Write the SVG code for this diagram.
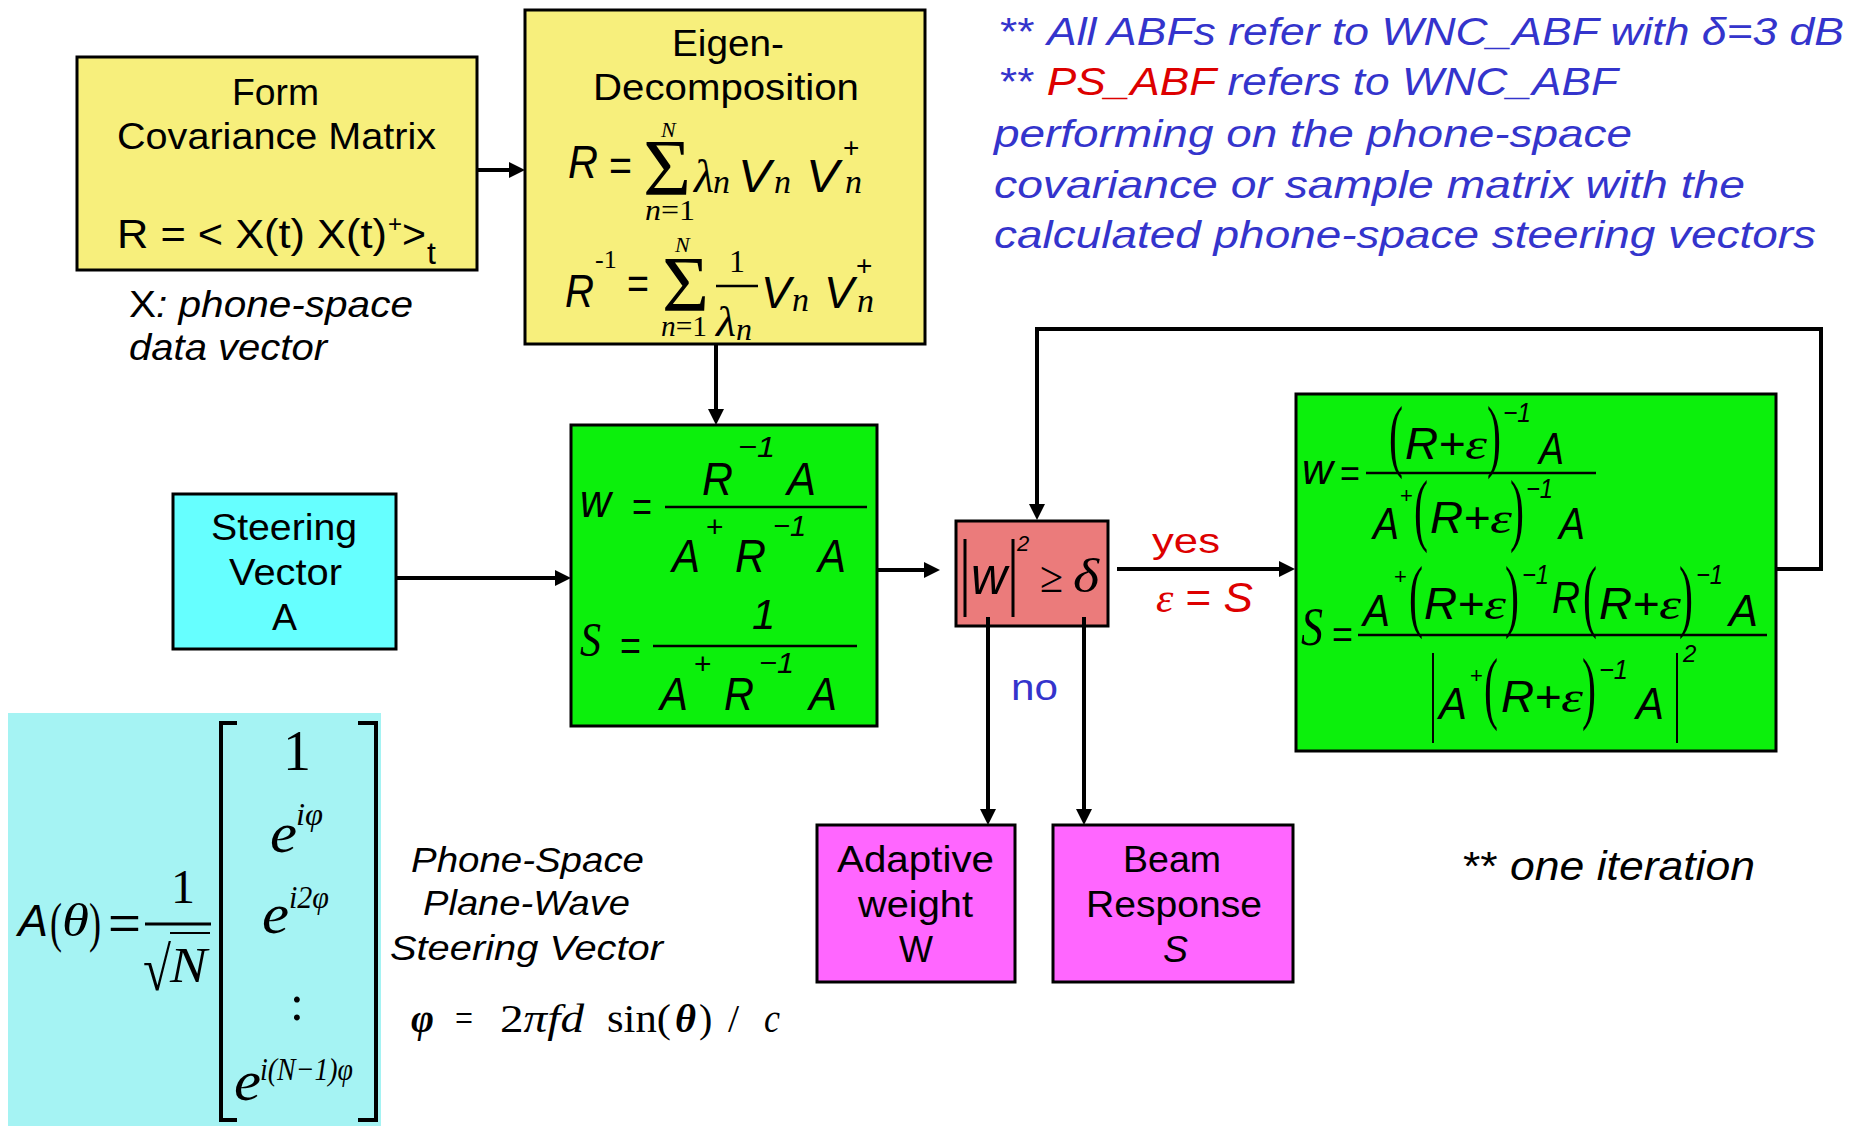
<svg xmlns="http://www.w3.org/2000/svg" width="1866" height="1126" viewBox="0 0 1866 1126">
<style>
.s{font-family:"Liberation Sans",Arial,sans-serif}
.r{font-family:"Liberation Serif","Times New Roman",serif}
.i{font-style:italic}
.b{font-weight:bold}
.blue{fill:#3434CC}
.red{fill:#DD0000}
.box{stroke:#000;stroke-width:3}
.conn{fill:none;stroke:#000;stroke-width:4}
.ln{stroke:#000;stroke-width:2.5}
.p{font-family:"Liberation Serif","Times New Roman",serif;font-style:normal}
</style>
<defs>
<marker id="ah" markerUnits="userSpaceOnUse" markerWidth="16" markerHeight="16" refX="6" refY="8" orient="auto">
<path d="M0,0 L16,8 L0,16 z" fill="#000"/>
</marker>
</defs>
<rect width="1866" height="1126" fill="#fff"/>

<g id="note-top" class="s blue" font-size="38">
<text x="1000" y="45" textLength="844" lengthAdjust="spacingAndGlyphs">** <tspan class="i">All ABFs refer to WNC_ABF with δ=3 dB</tspan></text>
<text x="1000" y="95" textLength="618" lengthAdjust="spacingAndGlyphs">** <tspan class="i red">PS_ABF</tspan><tspan class="i"> refers to WNC_ABF</tspan></text>
<text class="i" x="994" y="147" textLength="638" lengthAdjust="spacingAndGlyphs">performing on the phone-space</text>
<text class="i" x="994" y="198" textLength="751" lengthAdjust="spacingAndGlyphs">covariance or sample matrix with the</text>
<text class="i" x="994" y="248" textLength="822" lengthAdjust="spacingAndGlyphs">calculated phone-space steering vectors</text>
</g>

<g id="form-covariance">
<rect class="box" x="77" y="57" width="400" height="213" fill="#F7EF7C"/>
<g class="s" font-size="36">
<text x="232" y="105" textLength="87" lengthAdjust="spacingAndGlyphs">Form</text>
<text x="117" y="149" textLength="319" lengthAdjust="spacingAndGlyphs">Covariance Matrix</text>
<text x="117" y="248" font-size="40" textLength="270" lengthAdjust="spacingAndGlyphs">R = &lt; X(t) X(t)</text>
<text x="388" y="232" font-size="24">+</text>
<text x="402" y="248" font-size="40" textLength="24" lengthAdjust="spacingAndGlyphs">&gt;</text>
<text x="427" y="264" font-size="32">t</text>
</g>
</g>

<g id="label-x" class="s" font-size="37">
<text x="129" y="317" textLength="284" lengthAdjust="spacingAndGlyphs">X<tspan class="i">: phone-space</tspan></text>
<text class="i" x="129" y="360" textLength="198" lengthAdjust="spacingAndGlyphs">data vector</text>
</g>

<g id="eigen-decomposition">
<rect class="box" x="525" y="10" width="400" height="334" fill="#F7EF7C"/>
<g class="s" font-size="36">
<text x="672" y="56" textLength="112" lengthAdjust="spacingAndGlyphs">Eigen-</text>
<text x="593" y="100" textLength="266" lengthAdjust="spacingAndGlyphs">Decomposition</text>
</g>
<text class="s i" x="568" y="178" font-size="46" textLength="30" lengthAdjust="spacingAndGlyphs">R</text>
<text class="s" x="609" y="181" font-size="44" textLength="23" lengthAdjust="spacingAndGlyphs">=</text>
<text class="r" x="643" y="195" font-size="80" textLength="48" lengthAdjust="spacingAndGlyphs">Σ</text>
<text class="r i" x="661" y="137" font-size="22">N</text>
<text class="r" x="645" y="220" font-size="30" textLength="50" lengthAdjust="spacingAndGlyphs"><tspan class="i">n</tspan>=1</text>
<text class="r i" x="694" y="192" font-size="46" textLength="20" lengthAdjust="spacingAndGlyphs">λ</text>
<text class="r i" x="713" y="193" font-size="34">n</text>
<text class="s i" x="738" y="192" font-size="46" textLength="33" lengthAdjust="spacingAndGlyphs">V</text>
<text class="r i" x="774" y="193" font-size="34">n</text>
<text class="s i" x="806" y="192" font-size="46" textLength="33" lengthAdjust="spacingAndGlyphs">V</text>
<text class="s" x="843" y="157" font-size="28">+</text>
<text class="r i" x="845" y="193" font-size="34">n</text>

<text class="s i" x="565" y="307" font-size="46" textLength="29" lengthAdjust="spacingAndGlyphs">R</text>
<text class="r" x="595" y="268" font-size="26">-1</text>
<text class="s" x="627" y="299" font-size="44" textLength="22" lengthAdjust="spacingAndGlyphs">=</text>
<text class="r" x="662" y="310" font-size="78" textLength="47" lengthAdjust="spacingAndGlyphs">Σ</text>
<text class="r i" x="675" y="252" font-size="22">N</text>
<text class="r" x="661" y="336" font-size="30" textLength="46" lengthAdjust="spacingAndGlyphs"><tspan class="i">n</tspan>=1</text>
<text class="r" x="729" y="272" font-size="32">1</text>
<line class="ln" x1="716" y1="286" x2="758" y2="286"/>
<text class="r i" x="716" y="336" font-size="42" textLength="20" lengthAdjust="spacingAndGlyphs">λ</text>
<text class="r i" x="736" y="340" font-size="32">n</text>
<text class="s i" x="761" y="308" font-size="44" textLength="30" lengthAdjust="spacingAndGlyphs">V</text>
<text class="r i" x="792" y="311" font-size="34">n</text>
<text class="s i" x="824" y="308" font-size="44" textLength="30" lengthAdjust="spacingAndGlyphs">V</text>
<text class="s" x="856" y="275" font-size="28">+</text>
<text class="r i" x="857" y="312" font-size="34">n</text>
</g>

<g id="steering-vector">
<rect class="box" x="173" y="494" width="223" height="155" fill="#66FFFF"/>
<g class="s" font-size="37">
<text x="211" y="540" textLength="146" lengthAdjust="spacingAndGlyphs">Steering</text>
<text x="229" y="585" textLength="113" lengthAdjust="spacingAndGlyphs">Vector</text>
<text x="272" y="630" textLength="25" lengthAdjust="spacingAndGlyphs">A</text>
</g>
</g>

<g id="mvdr-weights">
<rect class="box" x="571" y="425" width="306" height="301" fill="#0CF00C"/>
<g class="s i" font-size="46">
<text x="580" y="517" textLength="31" lengthAdjust="spacingAndGlyphs">w</text>
<text x="702" y="495" textLength="31" lengthAdjust="spacingAndGlyphs">R</text>
<text x="738" y="457" font-size="30" textLength="37" lengthAdjust="spacingAndGlyphs">−1</text>
<text x="787" y="495" textLength="29" lengthAdjust="spacingAndGlyphs">A</text>
<text x="672" y="572" textLength="28" lengthAdjust="spacingAndGlyphs">A</text>
<text x="735" y="572" textLength="31" lengthAdjust="spacingAndGlyphs">R</text>
<text x="773" y="536" font-size="30" textLength="33" lengthAdjust="spacingAndGlyphs">−1</text>
<text x="818" y="572" textLength="28" lengthAdjust="spacingAndGlyphs">A</text>
<text x="752" y="629" font-size="42">1</text>
<text x="660" y="710" textLength="28" lengthAdjust="spacingAndGlyphs">A</text>
<text x="724" y="710" textLength="30" lengthAdjust="spacingAndGlyphs">R</text>
<text x="759" y="673" font-size="30" textLength="35" lengthAdjust="spacingAndGlyphs">−1</text>
<text x="809" y="710" textLength="28" lengthAdjust="spacingAndGlyphs">A</text>
</g>
<g class="s" font-size="42">
<text x="632" y="521" textLength="20" lengthAdjust="spacingAndGlyphs">=</text>
<text x="706" y="537" font-size="30">+</text>
<text x="620" y="660" textLength="21" lengthAdjust="spacingAndGlyphs">=</text>
<text x="694" y="674" font-size="30">+</text>
</g>
<text class="r i" x="580" y="656" font-size="48" textLength="21" lengthAdjust="spacingAndGlyphs">S</text>
<line class="ln" x1="665" y1="507" x2="867" y2="507"/>
<line class="ln" x1="653" y1="646" x2="857" y2="646"/>
</g>

<g id="threshold-test">
<rect class="box" x="956" y="521" width="152" height="105" fill="#EB7B7B"/>
<line x1="965" y1="539" x2="965" y2="617" stroke="#000" stroke-width="3"/>
<line x1="1013" y1="539" x2="1013" y2="617" stroke="#000" stroke-width="3"/>
<text class="s i" x="971" y="594" font-size="54" textLength="36" lengthAdjust="spacingAndGlyphs">w</text>
<text class="s i" x="1017" y="551" font-size="22">2</text>
<text class="r" x="1040" y="592" font-size="44" textLength="23" lengthAdjust="spacingAndGlyphs">≥</text>
<text class="r i" x="1073" y="592" font-size="48" textLength="26" lengthAdjust="spacingAndGlyphs">δ</text>
</g>

<g id="regularized-weights">
<rect class="box" x="1296" y="394" width="480" height="357" fill="#0CF00C"/>
<text class="s i" x="1302" y="484" font-size="42" textLength="31" lengthAdjust="spacingAndGlyphs">w</text>
<text class="s" x="1340" y="487" font-size="38" textLength="20" lengthAdjust="spacingAndGlyphs">=</text>
<line class="ln" x1="1366" y1="473" x2="1596" y2="473"/>
<g class="s i" font-size="44">
<text x="1389" y="462" class="p" font-size="80" textLength="14" lengthAdjust="spacingAndGlyphs">(</text>
<text x="1405" y="459" textLength="60" lengthAdjust="spacingAndGlyphs">R+</text>
<text x="1465" y="459" class="r" textLength="22" lengthAdjust="spacingAndGlyphs">ε</text>
<text x="1487" y="462" class="p" font-size="80" textLength="14" lengthAdjust="spacingAndGlyphs">)</text>
<text x="1503" y="422" font-size="28" textLength="28" lengthAdjust="spacingAndGlyphs">−1</text>
<text x="1539" y="464" textLength="25" lengthAdjust="spacingAndGlyphs">A</text>

<text x="1373" y="539" textLength="26" lengthAdjust="spacingAndGlyphs">A</text>
<text x="1400" y="503" font-size="22" font-style="normal">+</text>
<text x="1414" y="536" class="p" font-size="80" textLength="14" lengthAdjust="spacingAndGlyphs">(</text>
<text x="1430" y="533" textLength="60" lengthAdjust="spacingAndGlyphs">R+</text>
<text x="1490" y="533" class="r" textLength="22" lengthAdjust="spacingAndGlyphs">ε</text>
<text x="1510" y="536" class="p" font-size="80" textLength="14" lengthAdjust="spacingAndGlyphs">)</text>
<text x="1526" y="498" font-size="28" textLength="27" lengthAdjust="spacingAndGlyphs">−1</text>
<text x="1559" y="539" textLength="26" lengthAdjust="spacingAndGlyphs">A</text>
</g>

<text class="r i" x="1301" y="645" font-size="54" textLength="22" lengthAdjust="spacingAndGlyphs">S</text>
<text class="s" x="1332" y="648" font-size="38" textLength="21" lengthAdjust="spacingAndGlyphs">=</text>
<line class="ln" x1="1358" y1="635" x2="1767" y2="635"/>
<g class="s i" font-size="44">
<text x="1363" y="626" textLength="27" lengthAdjust="spacingAndGlyphs">A</text>
<text x="1394" y="584" font-size="22" font-style="normal">+</text>
<text x="1409" y="622" class="p" font-size="80" textLength="14" lengthAdjust="spacingAndGlyphs">(</text>
<text x="1424" y="619" textLength="60" lengthAdjust="spacingAndGlyphs">R+</text>
<text x="1484" y="619" class="r" textLength="22" lengthAdjust="spacingAndGlyphs">ε</text>
<text x="1505" y="622" class="p" font-size="80" textLength="14" lengthAdjust="spacingAndGlyphs">)</text>
<text x="1522" y="584" font-size="28" textLength="27" lengthAdjust="spacingAndGlyphs">−1</text>
<text x="1552" y="613" textLength="28" lengthAdjust="spacingAndGlyphs">R</text>
<text x="1583" y="622" class="p" font-size="80" textLength="14" lengthAdjust="spacingAndGlyphs">(</text>
<text x="1599" y="619" textLength="60" lengthAdjust="spacingAndGlyphs">R+</text>
<text x="1659" y="619" class="r" textLength="22" lengthAdjust="spacingAndGlyphs">ε</text>
<text x="1679" y="622" class="p" font-size="80" textLength="14" lengthAdjust="spacingAndGlyphs">)</text>
<text x="1696" y="584" font-size="28" textLength="27" lengthAdjust="spacingAndGlyphs">−1</text>
<text x="1729" y="626" textLength="29" lengthAdjust="spacingAndGlyphs">A</text>

<text x="1439" y="719" textLength="28" lengthAdjust="spacingAndGlyphs">A</text>
<text x="1470" y="683" font-size="22" font-style="normal">+</text>
<text x="1484" y="714" class="p" font-size="80" textLength="14" lengthAdjust="spacingAndGlyphs">(</text>
<text x="1501" y="712" textLength="60" lengthAdjust="spacingAndGlyphs">R+</text>
<text x="1561" y="712" class="r" textLength="22" lengthAdjust="spacingAndGlyphs">ε</text>
<text x="1582" y="714" class="p" font-size="80" textLength="14" lengthAdjust="spacingAndGlyphs">)</text>
<text x="1599" y="679" font-size="28" textLength="29" lengthAdjust="spacingAndGlyphs">−1</text>
<text x="1636" y="719" textLength="28" lengthAdjust="spacingAndGlyphs">A</text>
<text x="1683" y="662" font-size="24">2</text>
</g>
<line x1="1433" y1="653" x2="1433" y2="743" stroke="#000" stroke-width="2"/>
<line x1="1677" y1="653" x2="1677" y2="743" stroke="#000" stroke-width="2"/>
</g>

<g id="adaptive-weight">
<rect class="box" x="817" y="825" width="198" height="157" fill="#FF66FF"/>
<g class="s" font-size="37">
<text x="837" y="872" textLength="157" lengthAdjust="spacingAndGlyphs">Adaptive</text>
<text x="858" y="917" textLength="115" lengthAdjust="spacingAndGlyphs">weight</text>
<text x="899" y="962" textLength="34" lengthAdjust="spacingAndGlyphs">W</text>
</g>
</g>

<g id="beam-response">
<rect class="box" x="1053" y="825" width="240" height="157" fill="#FF66FF"/>
<g class="s" font-size="37">
<text x="1123" y="872" textLength="98" lengthAdjust="spacingAndGlyphs">Beam</text>
<text x="1086" y="917" textLength="176" lengthAdjust="spacingAndGlyphs">Response</text>
<text class="i" x="1163" y="962" textLength="25" lengthAdjust="spacingAndGlyphs">S</text>
</g>
</g>

<g id="steering-vector-definition">
<rect x="8" y="713" width="373" height="413" fill="#A5F3F3"/>
<text class="s i" x="18" y="936" font-size="44" textLength="30" lengthAdjust="spacingAndGlyphs">A</text>
<text class="r" x="50" y="941" font-size="54" textLength="12" lengthAdjust="spacingAndGlyphs">(</text>
<text class="r i" x="62" y="936" font-size="46" textLength="27" lengthAdjust="spacingAndGlyphs">θ</text>
<text class="r" x="89" y="941" font-size="54" textLength="12" lengthAdjust="spacingAndGlyphs">)</text>
<text class="s" x="108" y="939" font-size="46" textLength="33" lengthAdjust="spacingAndGlyphs">=</text>
<text class="r" x="171" y="903" font-size="48">1</text>
<line x1="145" y1="924" x2="211" y2="924" stroke="#000" stroke-width="3"/>
<text class="r" x="143" y="990" font-size="62" textLength="28" lengthAdjust="spacingAndGlyphs">√</text>
<line x1="170" y1="933" x2="210" y2="933" stroke="#000" stroke-width="2"/>
<text class="r i" x="170" y="982" font-size="50" textLength="37" lengthAdjust="spacingAndGlyphs">N</text>
<path d="M237,723 H221 V1120 H237 M358,723 H376 V1120 H358" fill="none" stroke="#000" stroke-width="4"/>
<g class="r" font-size="56">
<text x="297" y="770" text-anchor="middle">1</text>
<text class="i" x="270" y="852" textLength="27" lengthAdjust="spacingAndGlyphs">e</text>
<text class="i" x="296" y="825" font-size="32" textLength="27" lengthAdjust="spacingAndGlyphs">iφ</text>
<text class="i" x="262" y="933" textLength="27" lengthAdjust="spacingAndGlyphs">e</text>
<text class="i" x="289" y="908" font-size="32" textLength="40" lengthAdjust="spacingAndGlyphs">i2φ</text>
<text x="297" y="1020" text-anchor="middle" font-size="50">:</text>
<text class="i" x="234" y="1100" textLength="27" lengthAdjust="spacingAndGlyphs">e</text>
<text class="i" x="260" y="1080" font-size="32" textLength="93" lengthAdjust="spacingAndGlyphs">i(N−1)φ</text>
</g>
</g>

<g id="label-phone-space" class="s i" font-size="35">
<text x="411" y="872" textLength="233" lengthAdjust="spacingAndGlyphs">Phone-Space</text>
<text x="423" y="915" textLength="207" lengthAdjust="spacingAndGlyphs">Plane-Wave</text>
<text x="390" y="960" textLength="273" lengthAdjust="spacingAndGlyphs">Steering Vector</text>
</g>

<g id="label-phi" class="r" font-size="40">
<text x="411" y="1032" class="i b" textLength="23" lengthAdjust="spacingAndGlyphs">φ</text>
<text x="455" y="1032" textLength="18" lengthAdjust="spacingAndGlyphs">=</text>
<text x="500" y="1032" textLength="84" lengthAdjust="spacingAndGlyphs">2<tspan class="i">πfd</tspan></text>
<text x="607" y="1032" textLength="64" lengthAdjust="spacingAndGlyphs">sin(</text>
<text x="675" y="1032" class="i b" textLength="21" lengthAdjust="spacingAndGlyphs">θ</text>
<text x="699" y="1032">)</text>
<text x="728" y="1032">/</text>
<text x="764" y="1032" class="i" textLength="16" lengthAdjust="spacingAndGlyphs">c</text>
</g>

<g id="label-iteration" class="s" font-size="41">
<text x="1463" y="880" textLength="292" lengthAdjust="spacingAndGlyphs">** <tspan class="i">one iteration</tspan></text>
</g>

<g id="connectors">
<path class="conn" marker-end="url(#ah)" d="M477,170 H515"/>
<path class="conn" marker-end="url(#ah)" d="M716,344 V415"/>
<path class="conn" marker-end="url(#ah)" d="M396,578 H561"/>
<path class="conn" marker-end="url(#ah)" d="M877,570 H930"/>
<path class="conn" marker-end="url(#ah)" d="M1117,569 H1285"/>
<path class="conn" marker-end="url(#ah)" d="M1776,569 H1821 V329 H1037 V510"/>
<path class="conn" marker-end="url(#ah)" d="M988,617 V815"/>
<path class="conn" marker-end="url(#ah)" d="M1084,617 V815"/>
<text class="s red" x="1152" y="553" font-size="35" textLength="68" lengthAdjust="spacingAndGlyphs">yes</text>
<text class="red" x="1156" y="612" font-size="42" textLength="97" lengthAdjust="spacingAndGlyphs"><tspan class="r i">ε</tspan><tspan class="s"> = </tspan><tspan class="s i">S</tspan></text>
<text class="s blue" x="1011" y="700" font-size="36" textLength="47" lengthAdjust="spacingAndGlyphs">no</text>
</g>
</svg>
